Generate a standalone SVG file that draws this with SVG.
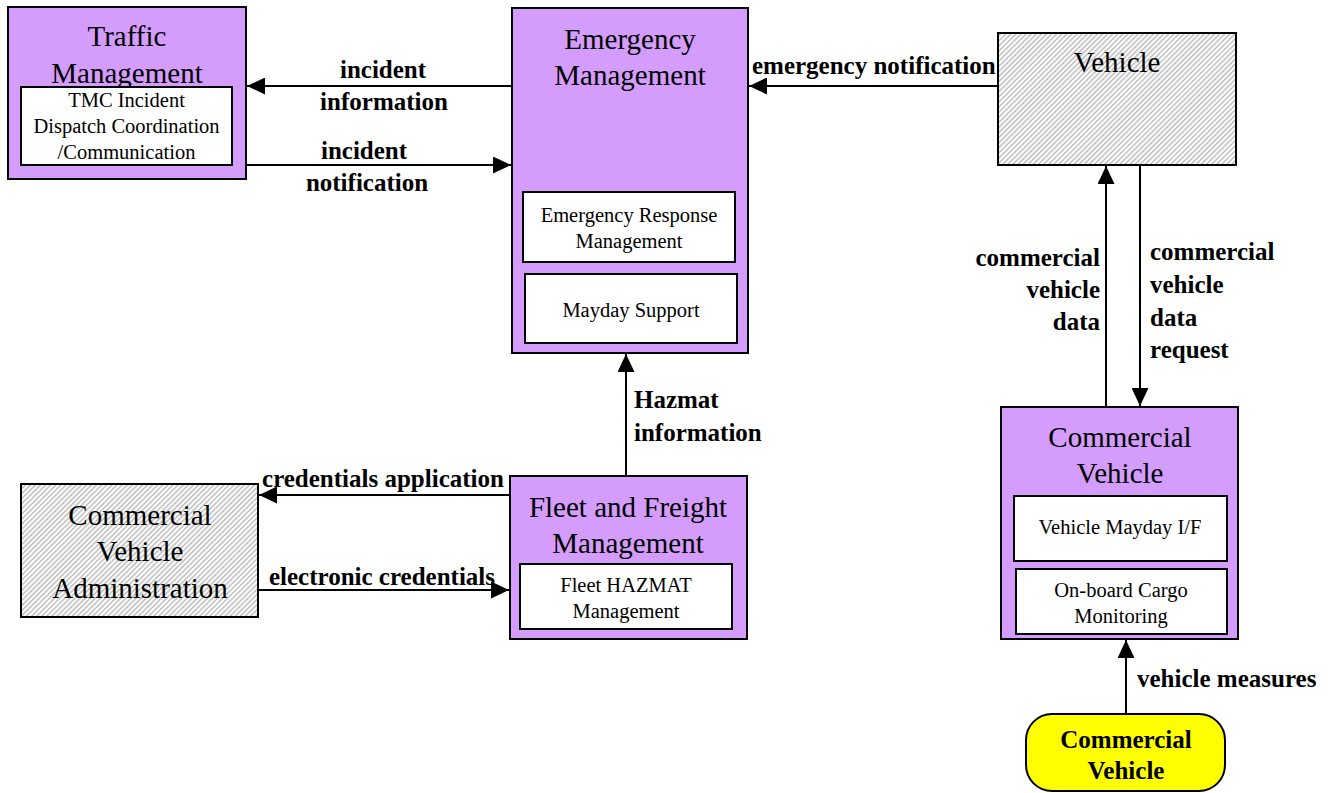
<svg xmlns="http://www.w3.org/2000/svg" width="1333" height="793" viewBox="0 0 1333 793">
<defs>
<pattern id="hatch" patternUnits="userSpaceOnUse" width="3.6" height="3.6" patternTransform="rotate(45)">
<rect width="3.6" height="3.6" fill="#ffffff"/>
<line x1="0.8" y1="-1" x2="0.8" y2="5" stroke="#b8b8b8" stroke-width="1.4"/>
</pattern>
<marker id="arr" viewBox="0 0 18 17" refX="18" refY="8.5" markerWidth="18" markerHeight="17" markerUnits="userSpaceOnUse" orient="auto">
<path d="M0,0 L18,8.5 L0,17 z" fill="#000"/>
</marker>
</defs>
<style>
.node{fill:#d49dfd;stroke:#000;stroke-width:2}
.ext{fill:url(#hatch);stroke:#000;stroke-width:2}
.inner{fill:#fff;stroke:#000;stroke-width:2}
.term{fill:#ffff00;stroke:#000;stroke-width:2}
.title{font-family:"Liberation Serif","Times New Roman",serif;font-size:29px;fill:#000;text-anchor:middle}
.sub{font-family:"Liberation Serif","Times New Roman",serif;font-size:20.5px;fill:#000;text-anchor:middle}
.lbl{font-family:"Liberation Serif","Times New Roman",serif;font-size:25px;font-weight:bold;fill:#000}
.c{text-anchor:middle}
.e{text-anchor:end}
.conn line{stroke:#000;stroke-width:2;marker-end:url(#arr)}
</style>
<rect width="1333" height="793" fill="#fff"/>

<g id="traffic-management">
<rect class="node" x="8" y="7" width="238" height="172"/>
<text class="title" x="127" y="46">Traffic</text>
<text class="title" x="127" y="83">Management</text>
<rect class="inner" x="21" y="87" width="211" height="78"/>
<text class="sub" x="126.5" y="107">TMC Incident</text>
<text class="sub" x="126.5" y="133">Dispatch Coordination</text>
<text class="sub" x="126.5" y="159">/Communication</text>
</g>

<g id="emergency-management">
<rect class="node" x="512" y="8" width="236" height="345"/>
<text class="title" x="630" y="49">Emergency</text>
<text class="title" x="630" y="85">Management</text>
<rect class="inner" x="523" y="192" width="212" height="70"/>
<text class="sub" x="629" y="222">Emergency Response</text>
<text class="sub" x="629" y="248">Management</text>
<rect class="inner" x="525" y="274" width="212" height="69"/>
<text class="sub" x="631" y="317">Mayday Support</text>
</g>

<g id="vehicle">
<rect class="ext" x="998" y="33" width="238" height="132"/>
<text class="title" x="1117" y="72">Vehicle</text>
</g>

<g id="fleet-freight-management">
<rect class="node" x="510" y="476" width="237" height="163"/>
<text class="title" x="628" y="517">Fleet and Freight</text>
<text class="title" x="628" y="553">Management</text>
<rect class="inner" x="520" y="564" width="212" height="65"/>
<text class="sub" x="626" y="592">Fleet HAZMAT</text>
<text class="sub" x="626" y="618">Management</text>
</g>

<g id="commercial-vehicle-administration">
<rect class="ext" x="21" y="484" width="237" height="133"/>
<text class="title" x="140" y="525">Commercial</text>
<text class="title" x="140" y="561">Vehicle</text>
<text class="title" x="140" y="598">Administration</text>
</g>

<g id="commercial-vehicle">
<rect class="node" x="1001" y="407" width="237" height="232"/>
<text class="title" x="1120" y="447">Commercial</text>
<text class="title" x="1120" y="483">Vehicle</text>
<rect class="inner" x="1014" y="496" width="213" height="65"/>
<text class="sub" x="1120" y="534">Vehicle Mayday I/F</text>
<rect class="inner" x="1016" y="569" width="211" height="65"/>
<text class="sub" x="1121" y="597">On-board Cargo</text>
<text class="sub" x="1121" y="623">Monitoring</text>
</g>

<g id="commercial-vehicle-terminator">
<rect class="term" x="1026" y="714" width="199" height="77" rx="26" ry="26"/>
<text class="lbl c" x="1126" y="748">Commercial</text>
<text class="lbl c" x="1126" y="779">Vehicle</text>
</g>

<g id="connectors" class="conn">
<line x1="511" y1="86" x2="247" y2="86"/>
<line x1="246" y1="165" x2="511" y2="165"/>
<line x1="998" y1="86" x2="749" y2="86"/>
<line x1="626" y1="476" x2="626" y2="354"/>
<line x1="510" y1="495" x2="259" y2="495"/>
<line x1="258" y1="590" x2="509" y2="590"/>
<line x1="1106" y1="407" x2="1106" y2="166"/>
<line x1="1140" y1="165" x2="1140" y2="406"/>
<line x1="1126" y1="714" x2="1126" y2="640"/>
</g>

<g id="connector-labels">
<text class="lbl c" x="383" y="78">incident</text>
<text class="lbl c" x="384" y="110">information</text>
<text class="lbl c" x="364" y="159">incident</text>
<text class="lbl c" x="367" y="191">notification</text>
<text class="lbl" x="752" y="74">emergency notification</text>
<text class="lbl" x="634" y="408">Hazmat</text>
<text class="lbl" x="634" y="441">information</text>
<text class="lbl c" x="383" y="487">credentials application</text>
<text class="lbl c" x="382" y="585">electronic credentials</text>
<text class="lbl e" x="1100" y="266">commercial</text>
<text class="lbl e" x="1100" y="298">vehicle</text>
<text class="lbl e" x="1100" y="330">data</text>
<text class="lbl" x="1150" y="260">commercial</text>
<text class="lbl" x="1150" y="293">vehicle</text>
<text class="lbl" x="1150" y="326">data</text>
<text class="lbl" x="1150" y="358">request</text>
<text class="lbl" x="1137" y="687">vehicle measures</text>
</g>
</svg>
